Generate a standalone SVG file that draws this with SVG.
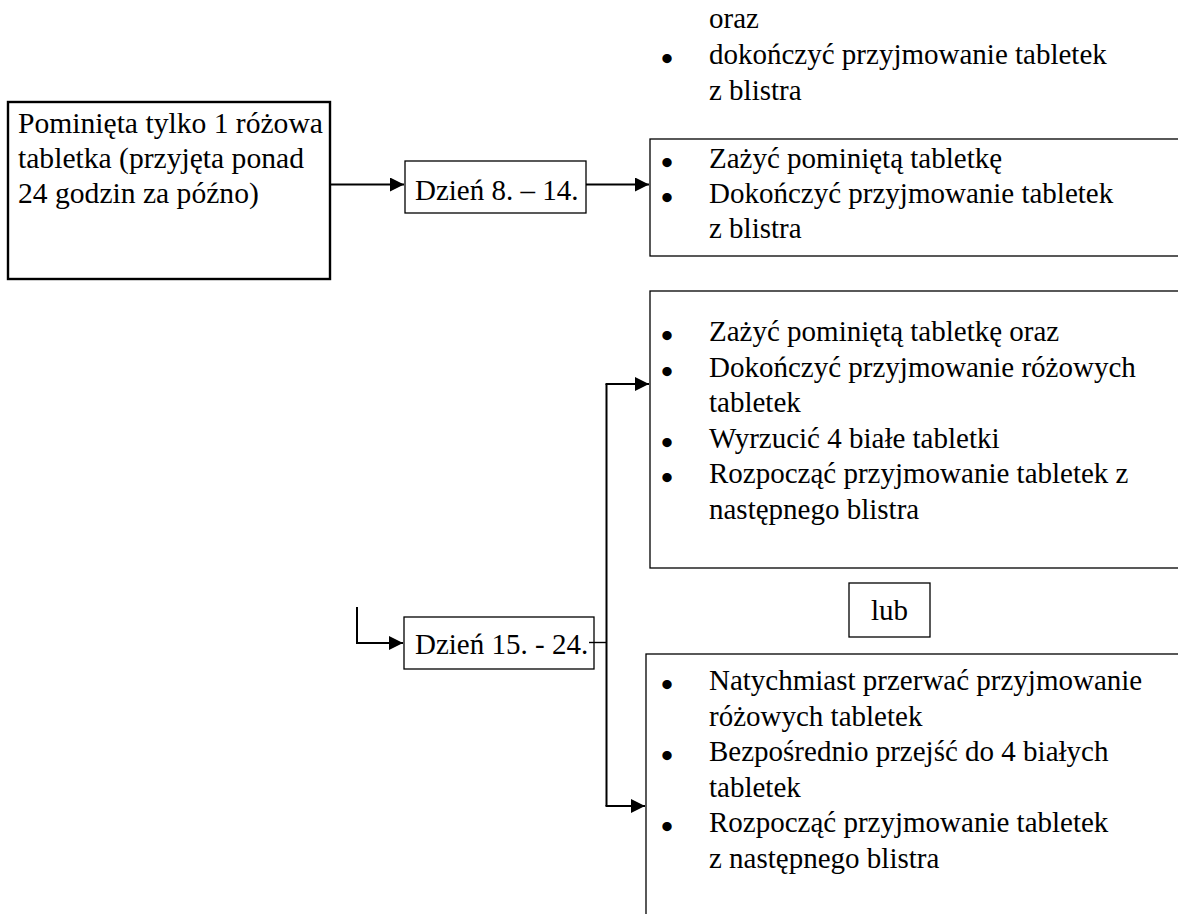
<svg xmlns="http://www.w3.org/2000/svg" width="1178" height="914" viewBox="0 0 1178 914">
<defs>
<style>
text{font-family:"Liberation Serif","Times New Roman",serif;font-size:29px;fill:#000}
text.b{text-anchor:middle;font-size:30px;stroke:#000;stroke-width:2.2}
text.l{font-size:29.6px}
.m{text-anchor:middle}
.box{fill:#fff;stroke:#000;stroke-width:1.3}
.thick{fill:#fff;stroke:#000;stroke-width:2.4}
.c{fill:none;stroke:#000;stroke-width:2}
.t{fill:none;stroke:#000;stroke-width:1.4}
</style>
<marker id="ah" markerUnits="userSpaceOnUse" markerWidth="14" markerHeight="14" viewBox="0 0 14 14" refX="14" refY="7" orient="auto">
<path d="M0,0 L14,7 L0,14 Z" fill="#000"/>
</marker>
</defs>
<rect width="1178" height="914" fill="#fff"/>

<g id="top-text">
<text x="709" y="28">oraz</text>
<text class="b" x="667" y="69">•</text>
<text x="709" y="64">dokończyć przyjmowanie tabletek</text>
<text x="709" y="99.5">z blistra</text>
</g>

<g id="node-pominieta">
<rect class="thick" x="8" y="102" width="322" height="177"/>
<text class="l" x="18" y="133">Pominięta tylko 1 różowa</text>
<text class="l" x="18" y="168">tabletka (przyjęta ponad</text>
<text class="l" x="18" y="203">24 godzin za późno)</text>
</g>

<g id="node-dzien8">
<rect class="box" x="405" y="161" width="181" height="52"/>
<text x="415" y="200">Dzień 8. – 14.</text>
</g>

<g id="node-zazyc">
<rect class="box" x="650" y="139" width="560" height="117"/>
<text class="b" x="667" y="173">•</text>
<text x="709" y="168">Zażyć pominiętą tabletkę</text>
<text class="b" x="667" y="208">•</text>
<text x="709" y="203">Dokończyć przyjmowanie tabletek</text>
<text x="709" y="238">z blistra</text>
</g>

<g id="node-option1">
<rect class="box" x="650" y="291" width="560" height="277"/>
<text class="b" x="667" y="346">•</text>
<text x="709" y="341">Zażyć pominiętą tabletkę oraz</text>
<text class="b" x="667" y="381.5">•</text>
<text x="709" y="376.5">Dokończyć przyjmowanie różowych</text>
<text x="709" y="412">tabletek</text>
<text class="b" x="667" y="452.5">•</text>
<text x="709" y="447.5">Wyrzucić 4 białe tabletki</text>
<text class="b" x="667" y="488">•</text>
<text x="709" y="483">Rozpocząć przyjmowanie tabletek z</text>
<text x="709" y="518.5">następnego blistra</text>
</g>

<g id="node-lub">
<rect class="box" x="849" y="583" width="81" height="54"/>
<text class="m" x="889.5" y="620">lub</text>
</g>

<g id="node-dzien15">
<rect class="box" x="404" y="617" width="190" height="52"/>
<text x="415" y="654">Dzień 15. - 24.</text>
</g>

<g id="node-option2">
<rect class="box" x="646" y="654" width="564" height="300"/>
<text class="b" x="667" y="695">•</text>
<text x="709" y="690">Natychmiast przerwać przyjmowanie</text>
<text x="709" y="725.5">różowych tabletek</text>
<text class="b" x="667" y="766">•</text>
<text x="709" y="761">Bezpośrednio przejść do 4 białych</text>
<text x="709" y="796.5">tabletek</text>
<text class="b" x="667" y="837">•</text>
<text x="709" y="832">Rozpocząć przyjmowanie tabletek</text>
<text x="709" y="867.5">z następnego blistra</text>
</g>

<g id="connectors">
<path class="c" d="M330,184.5 H404" marker-end="url(#ah)"/>
<path class="c" d="M586,184.5 H649" marker-end="url(#ah)"/>
<path class="c" d="M357,607 V643 H403" marker-end="url(#ah)"/>
<path class="t" d="M589,642.5 H606.5"/>
<path class="c" d="M606.5,384 V806"/>
<path class="c" d="M605.5,384 H649" marker-end="url(#ah)"/>
<path class="c" d="M605.5,806 H645" marker-end="url(#ah)"/>
</g>
</svg>
